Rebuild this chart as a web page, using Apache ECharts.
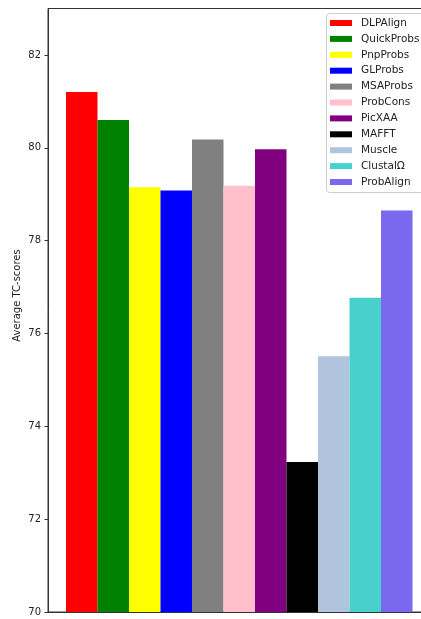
<!DOCTYPE html>
<html>
<head>
<meta charset="utf-8">
<script src="https://cdn.jsdelivr.net/npm/echarts@6/dist/echarts.min.js"></script>
<style>html,body{margin:0;padding:0;background:#fff}#c{width:421px;height:619px}</style>
</head>
<body>
<div id="c"></div>
<script>
const methods = ['DLPAlign','QuickProbs','PnpProbs','GLProbs','MSAProbs','ProbCons','PicXAA','MAFFT','Muscle','ClustalΩ','ProbAlign'];
const scores = [81.20, 80.60, 79.15, 79.08, 80.18, 79.18, 79.97, 73.23, 75.51, 76.77, 78.65];
const colors = ['#ff0000','#008000','#ffff00','#0000ff','#808080','#ffc0cb','#800080','#000000','#b0c4de','#48d1cc','#7b68ee'];
const categories = [''];
const yTicks = {min: 70, max: 83, interval: 2};
const yLabel = 'Average TC-scores';

const font = 'DejaVu Sans';
const chart = echarts.init(document.getElementById('c'), null, {renderer: 'canvas'});
const series = methods.map((m, i) => ({
  name: m,
  type: 'bar',
  data: [scores[i]],
  itemStyle: {color: colors[i]},
  barGap: '0%',
  barCategoryGap: '9.4%',
  emphasis: {disabled: true}
}));
chart.setOption({
  animation: false,
  grid: {left: 48, top: 8.5, height: 603.5, width: 382.5, outerBoundsMode: 'none', containLabel: false,
         show: true, borderColor: '#333', borderWidth: 1, backgroundColor: 'transparent'},
  xAxis: {
    type: 'category', data: categories,
    axisLine: {lineStyle: {color: '#333', width: 1}},
    axisTick: {alignWithLabel: true, length: 3.5, lineStyle: {color: '#333'}},
    axisLabel: {show: false},
    splitLine: {show: false}
  },
  yAxis: {
    type: 'value', min: yTicks.min, max: yTicks.max, interval: yTicks.interval,
    axisLine: {show: true, lineStyle: {color: '#333', width: 1}},
    axisTick: {show: true, length: 3.5, lineStyle: {color: '#333'}},
    axisLabel: {color: '#222', fontSize: 10, fontFamily: font, margin: 7, showMaxLabel: false},
    splitLine: {show: false}
  },
  legend: {
    orient: 'vertical', left: 326, top: 13,
    icon: 'rect', itemWidth: 22, itemHeight: 6, itemGap: 3.9,
    padding: [4, 4, 4, 4],
    borderWidth: 0,
    textStyle: {fontSize: 10.5, fontFamily: font, color: '#222', lineHeight: 12, padding: [0, 0, 0, 4]},
    data: methods
  },
  graphic: [{
    type: 'rect', z: -1, silent: true,
    shape: {x: 326.5, y: 13.5, width: 110, height: 179, r: 3},
    style: {fill: '#ffffff', stroke: '#cccccc', lineWidth: 1}
  }, {
    type: 'text', x: 17.5, y: 295.5, rotation: Math.PI / 2,
    style: {text: yLabel, fontSize: 10, fontFamily: font, fill: '#222', align: 'center', verticalAlign: 'middle'}
  }],
  series: series
});
</script>
</body>
</html>
